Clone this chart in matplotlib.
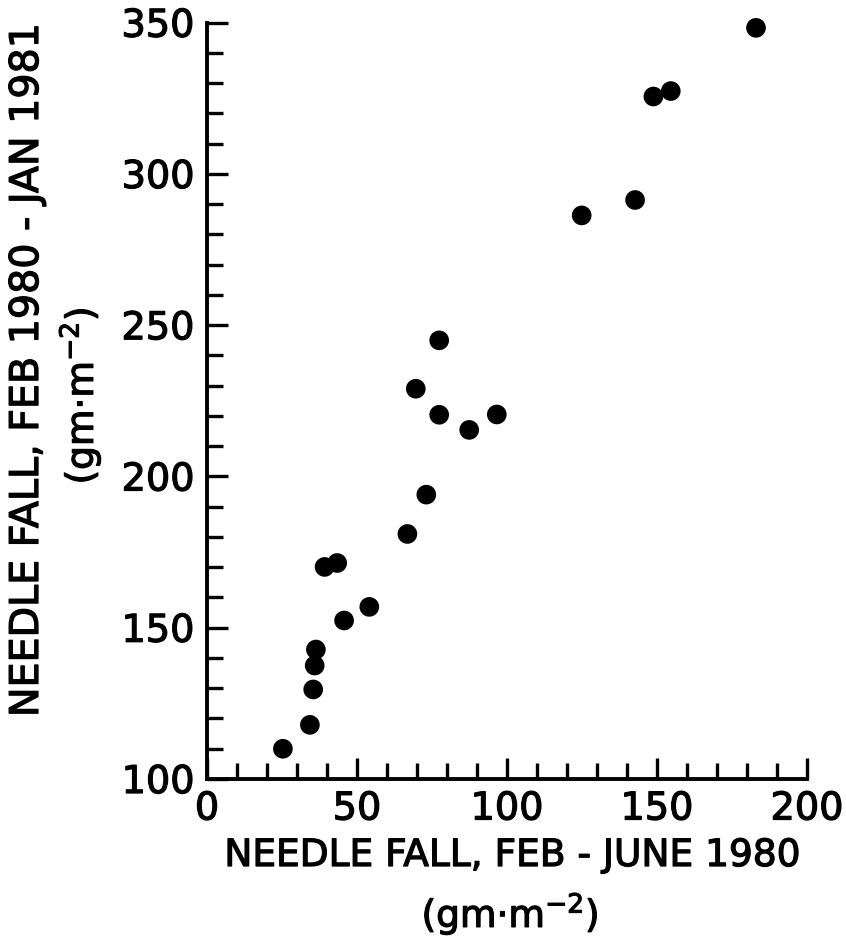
import matplotlib
matplotlib.use("Agg")
import matplotlib.pyplot as plt
import matplotlib.patheffects as pe
from matplotlib.ticker import MultipleLocator

# Data (gm·m^-2)
feb_june_1980 = [25.3, 34.3, 35.4, 35.9, 36.3, 45.7, 54.1, 39.2, 43.4, 66.8, 73.1,
                 69.6, 77.4, 77.4, 87.4, 96.6, 124.9, 142.7, 148.8, 154.6, 183.0]
feb80_jan81 = [110.0, 117.9, 129.6, 137.5, 142.8, 152.4, 156.9, 170.1, 171.4, 181.0, 194.0,
               229.0, 245.0, 220.4, 215.4, 220.5, 286.3, 291.4, 325.6, 327.4, 348.3]

x_ticks = [0, 50, 100, 150, 200]
y_ticks = [100, 150, 200, 250, 300, 350]

plt.rcParams['font.family'] = ['DejaVu Sans']
plt.rcParams['mathtext.fontset'] = 'dejavusans'

heavy = [pe.withStroke(linewidth=0.9, foreground='black')]

fig = plt.figure(figsize=(8.46, 9.42), dpi=100)
ax = fig.add_axes([207/846, 1-779/942, 600/846, (779-22.7)/942])

ax.scatter(feb_june_1980, feb80_jan81, s=200, color='black', edgecolors='none',
           clip_on=False, zorder=3)

ax.set_xlim(0, 200)
ax.set_ylim(100, 350)
ax.set_xticks(x_ticks)
ax.set_yticks(y_ticks)
ax.set_xticklabels([str(v) for v in x_ticks])
ax.set_yticklabels([str(v) for v in y_ticks])
ax.xaxis.set_minor_locator(MultipleLocator(10))
ax.yaxis.set_minor_locator(MultipleLocator(10))

for side in ('top', 'right'):
    ax.spines[side].set_visible(False)
for side in ('left', 'bottom'):
    ax.spines[side].set_linewidth(2.8)

ax.tick_params(which='major', direction='in', length=15, width=2.4,
               labelsize=27.5, pad=9, color='black')
ax.tick_params(which='minor', direction='in', length=11.5, width=2.4, color='black')

for lbl in ax.get_xticklabels() + ax.get_yticklabels():
    lbl.set_path_effects(heavy)

# Axis labels
fig.text(512/846, 1-856/942, 'NEEDLE FALL, FEB - JUNE 1980', ha='center', va='center',
         fontsize=27, path_effects=heavy)
fig.text(510/846, 1-914/942, r'(gm$\cdot$m$^{-2}$)', ha='center', va='center',
         fontsize=27, path_effects=heavy)
fig.text(27/846, 1-370/942, 'NEEDLE FALL, FEB 1980 - JAN 1981', ha='center', va='center',
         rotation=90, fontsize=28.5, path_effects=heavy)
fig.text(80/846, 1-396/942, r'(gm$\cdot$m$^{-2}$)', ha='center', va='center',
         rotation=90, fontsize=27, path_effects=heavy)

fig.savefig('out.png', dpi=100, facecolor='white')
